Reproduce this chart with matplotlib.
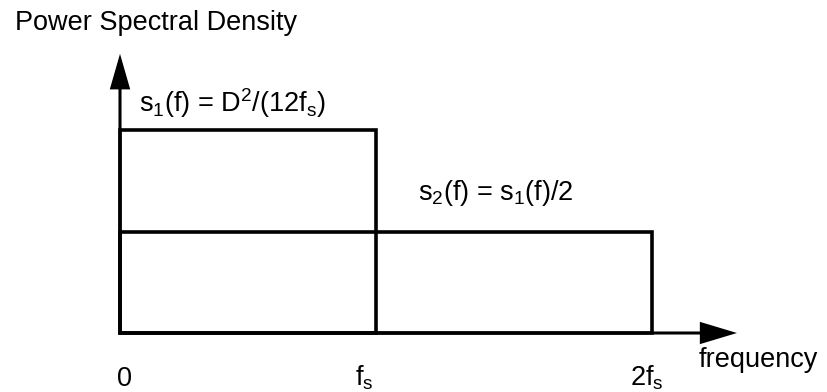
import matplotlib
matplotlib.use('Agg')
import matplotlib.pyplot as plt
from matplotlib.patches import Rectangle

# band edges in units of fs, and PSD levels relative to s1
band_edges = [0.0, 1.0, 2.08]
psd_levels = [1.0, 0.5]
tick_labels = ['0', r'f$_\mathregular{s}$', r'2f$_\mathregular{s}$']
s1_label = r's$_\mathregular{1}$(f) = D$^\mathregular{2}$/(12f$_\mathregular{s}$)'
s2_label = r's$_\mathregular{2}$(f) = s$_\mathregular{1}$(f)/2'

plt.rcParams['font.family'] = ['Liberation Sans', 'DejaVu Sans']
plt.rcParams['mathtext.fontset'] = 'custom'
plt.rcParams['mathtext.rm'] = 'Liberation Sans'
plt.rcParams['mathtext.it'] = 'Liberation Sans:italic'
plt.rcParams['mathtext.bf'] = 'Liberation Sans:bold'

fs = 19.5
lw = 2.6

fig = plt.figure(figsize=(8.28, 3.92), dpi=100)
ax = fig.add_axes([0, 0, 1, 1])
ax.set_xlim(-120 / 256, (828 - 120) / 256)
ax.set_ylim(-59 / 203, 333 / 203)
ax.axis('off')

# the two noise bands
ax.add_patch(Rectangle((band_edges[0], 0), band_edges[1] - band_edges[0], psd_levels[0],
                       fill=False, edgecolor='black', linewidth=lw, joinstyle='miter'))
ax.add_patch(Rectangle((band_edges[0], 0), band_edges[2] - band_edges[0], psd_levels[1],
                       fill=False, edgecolor='black', linewidth=lw, joinstyle='miter'))

# axis arrows
ax.arrow(0, 0, 0, 1.375, width=0.012, head_width=0.08, head_length=0.175,
         length_includes_head=True, color='black', linewidth=0)
ax.arrow(0, 0, 2.41, 0, width=0.015, head_width=0.11, head_length=0.145,
         length_includes_head=True, color='black', linewidth=0)

# tick labels under the band edges
offsets = [5, -12, -6]
for x, lab, dx in zip(band_edges, tick_labels, offsets):
    ax.annotate(lab, (x, 0), xytext=(dx, -53), textcoords='offset pixels',
                ha='center', va='baseline', fontsize=fs)

ax.annotate('frequency', (2.41, 0), xytext=(-38, -34), textcoords='offset pixels',
            ha='left', va='baseline', fontsize=fs)
ax.annotate(s1_label, (0, psd_levels[0]), xytext=(19, 18), textcoords='offset pixels',
            ha='left', va='baseline', fontsize=fs)
ax.annotate(s2_label, (band_edges[1], psd_levels[1]), xytext=(42, 32), textcoords='offset pixels',
            ha='left', va='baseline', fontsize=fs)

fig.text(15 / 828, 1 - 30 / 392, 'Power Spectral Density', ha='left', va='baseline', fontsize=fs)

fig.savefig('out.png', dpi=100)
